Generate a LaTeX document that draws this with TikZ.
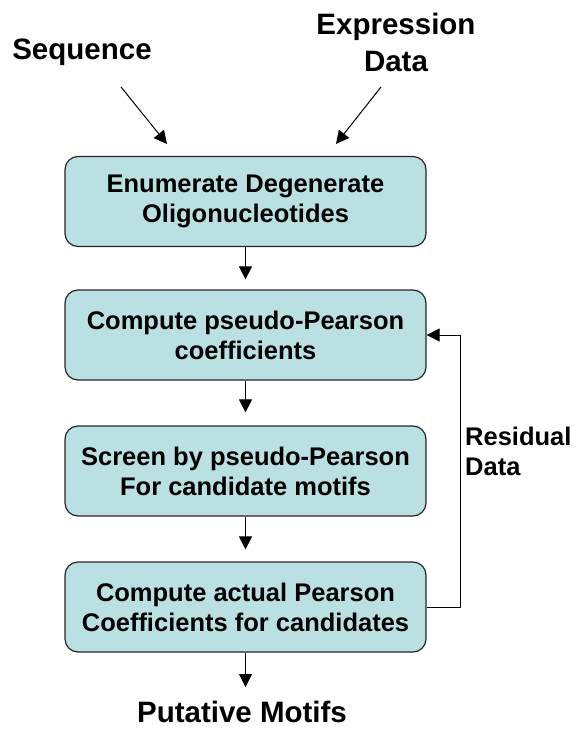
\documentclass[tikz,border=0pt]{standalone}
\usepackage{fontspec}
\setmainfont{Liberation Sans}
\usetikzlibrary{arrows.meta}
\definecolor{boxfill}{RGB}{187,224,227}
\begin{document}
\begin{tikzpicture}[x=1pt,y=-1pt,
  stepbox/.style={draw=black!85, line width=1.2pt, fill=boxfill, rounded corners=13pt,
    minimum width=361pt, minimum height=90pt, align=center, inner sep=0pt,
    font=\fontsize{25.5}{30}\selectfont\bfseries},
  title/.style={inner sep=0pt, align=center, font=\fontsize{29.5}{37}\selectfont\bfseries},
  side/.style={inner sep=0pt, align=left, font=\fontsize{25.5}{30}\selectfont\bfseries},
  flow/.style={line width=1pt, -{Triangle[length=13pt,width=13pt]}}]
\useasboundingbox (0,0) rectangle (576,730);

\node[title, anchor=base] (seq) at (82,60) {Sequence};
\node[title, anchor=north] (expr) at (396,13) {Expression\\Data};

\node[stepbox] (b1) at (245.5,201.5) {Enumerate Degenerate\\Oligonucleotides};
\node[stepbox] (b2) at (245.5,335) {Compute pseudo-Pearson\\coefficients};
\node[stepbox] (b3) at (245.5,471) {Screen by pseudo-Pearson\\For candidate motifs};
\node[stepbox] (b4) at (245.5,607) {Compute actual Pearson\\Coefficients for candidates};

\node[title, anchor=base] (out) at (242,722) {Putative Motifs};
\node[side, anchor=north west] (resid) at (465,427) {Residual\\Data};

\coordinate (seqtail) at (121,87);
\coordinate (seqhead) at (167,144);
\coordinate (exprtail) at (381,87);
\coordinate (exprhead) at (336,144);
\coordinate (outhead) at (245.5,687);
\coordinate (loopcorner) at (460,607);

\draw[flow] (seqtail) -- (seqhead);
\draw[flow] (exprtail) -- (exprhead);
\draw[flow, shorten >=10pt] (b1.south) -- (b2.north);
\draw[flow, shorten >=13pt] (b2.south) -- (b3.north);
\draw[flow, shorten >=12pt] (b3.south) -- (b4.north);
\draw[flow] (b4.south) -- (outhead);
\draw[flow] (b4.east) -- (loopcorner) |- (b2.east);
\end{tikzpicture}
\end{document}
